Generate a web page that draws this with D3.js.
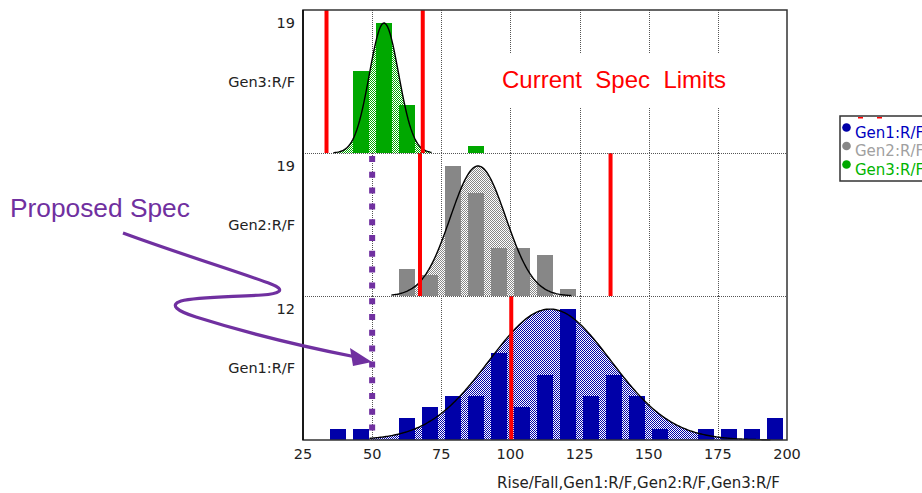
<!DOCTYPE html>
<html>
<head>
<meta charset="utf-8">
<script src="https://cdn.jsdelivr.net/npm/d3@7"></script>
<style>
  body { margin: 0; background: #fff; }
  text { font-family: "DejaVu Sans", sans-serif; }
</style>
</head>
<body>
<div id="chart"></div>
<script>
var svgWidth = 922;
var svgHeight = 493;

// data
var seriesNames = ["Gen1:R/F", "Gen2:R/F", "Gen3:R/F"];
var xTicks = [25, 50, 75, 100, 125, 150, 175, 200];
var binStart = 25;
var binWidth = 175 / 21;
var gen1Counts = [0, 1, 1, 0, 2, 3, 4, 4, 8, 3, 6, 12, 4, 6, 4, 1, 0, 1, 1, 1, 2];
var gen2Counts = [0, 0, 0, 0, 4, 3, 19, 15, 7, 7, 6, 1, 0, 0, 0, 0, 0, 0, 0, 0, 0];
var gen3Counts = [0, 0, 12, 19, 7, 0, 0, 1, 0, 0, 0, 0, 0, 0, 0, 0, 0, 0, 0, 0, 0];
var yMaxLabels = [12, 19, 19];
// fitted normal curves
var fitMean = [114.3, 88.3, 54.3];
var fitSd = [22, 10, 5.3];
var fitPeak = [12, 19, 19];
var fitFrom = [49, 57, 36];
var fitTo = [194, 122, 71.5];
// spec limits
var currentSpec = [[100.3], [67.3, 136.2], [33.5, 68.3]];
var proposedSpec = 50;

var allCounts = [gen1Counts, gen2Counts, gen3Counts];
var barColors = ["#0000a8", "#878787", "#00a800"];
var legendText = ["#0000c0", "#a0a0a0", "#00b400"];
var panelTop = [296, 153, 10];
var panelBottom = [440, 296, 153];

var svg = d3.select("#chart").append("svg")
  .attr("width", svgWidth)
  .attr("height", svgHeight);

var defs = svg.append("defs");
barColors.forEach(function (c, i) {
  var p = defs.append("pattern")
    .attr("id", "chk" + i)
    .attr("width", 2).attr("height", 2)
    .attr("patternUnits", "userSpaceOnUse");
  p.append("rect").attr("width", 2).attr("height", 2).attr("fill", "#fff");
  p.append("rect").attr("width", 1).attr("height", 1).attr("fill", c);
  p.append("rect").attr("x", 1).attr("y", 1).attr("width", 1).attr("height", 1).attr("fill", c);
});

var x = d3.scaleLinear().domain([25, 200]).range([303, 787]);

seriesNames.forEach(function (name, s) {
  var y = d3.scaleLinear()
    .domain([0, yMaxLabels[s] * 1.1])
    .range([panelBottom[s], panelTop[s]]);
  var g = svg.append("g");

  // dotted grid
  g.selectAll(".vgrid")
    .data(xTicks.slice(1, -1))
    .enter().append("line")
    .attr("x1", d => Math.round(x(d)) + 0.5)
    .attr("x2", d => Math.round(x(d)) + 0.5)
    .attr("y1", panelTop[s])
    .attr("y2", panelBottom[s])
    .attr("stroke", "#555")
    .attr("stroke-dasharray", "1,1");
  if (s > 0) {
    g.append("line")
      .attr("x1", 303).attr("x2", 787)
      .attr("y1", panelBottom[s] + 0.5).attr("y2", panelBottom[s] + 0.5)
      .attr("stroke", "#555")
      .attr("stroke-dasharray", "1,1");
  }

  // fitted curve
  var pts = d3.range(fitFrom[s], fitTo[s] + 0.01, 0.5).map(function (v) {
    var z = (v - fitMean[s]) / fitSd[s];
    return [v, fitPeak[s] * Math.exp(-0.5 * z * z)];
  });
  g.append("path")
    .datum(pts)
    .attr("fill", "url(#chk" + s + ")")
    .attr("d", d3.area().x(d => x(d[0])).y0(y(0)).y1(d => y(d[1])));

  // histogram bars
  g.selectAll(".bar")
    .data(allCounts[s].map((c, i) => ({ c: c, i: i })).filter(d => d.c > 0))
    .enter().append("rect")
    .attr("x", d => x(binStart + (d.i + 0.153) * binWidth))
    .attr("width", d => x(binStart + (d.i + 0.847) * binWidth) - x(binStart + (d.i + 0.153) * binWidth))
    .attr("y", d => y(d.c))
    .attr("height", d => y(0) - y(d.c))
    .attr("fill", barColors[s])
    .attr("shape-rendering", "crispEdges");

  g.append("path")
    .datum(pts)
    .attr("fill", "none")
    .attr("stroke", "#000")
    .attr("stroke-width", 1.4)
    .attr("d", d3.line().x(d => x(d[0])).y(d => y(d[1])));

  // current spec limits
  g.selectAll(".spec")
    .data(currentSpec[s])
    .enter().append("line")
    .attr("x1", d => x(d)).attr("x2", d => x(d))
    .attr("y1", panelTop[s]).attr("y2", panelBottom[s])
    .attr("stroke", "#ff0000")
    .attr("stroke-width", 4);

  // y labels
  svg.append("text")
    .attr("x", 295)
    .attr("y", y(yMaxLabels[s]) + 5)
    .attr("text-anchor", "end")
    .attr("font-size", "14.5px")
    .attr("fill", "#222")
    .text(yMaxLabels[s]);
  svg.append("text")
    .attr("x", 295)
    .attr("y", (panelTop[s] + panelBottom[s]) / 2 + 5)
    .attr("text-anchor", "end")
    .attr("font-size", "14.5px")
    .attr("fill", "#222")
    .text(name);
});

// frame
svg.append("rect")
  .attr("x", 303).attr("y", 10)
  .attr("width", 484).attr("height", 430)
  .attr("fill", "none")
  .attr("stroke", "#333")
  .attr("stroke-width", 1.5);
svg.append("line")
  .attr("x1", 303).attr("x2", 303).attr("y1", 10).attr("y2", 440)
  .attr("stroke", "#000").attr("stroke-width", 1.5);

// x axis labels
svg.selectAll(".xtick")
  .data(xTicks)
  .enter().append("text")
  .attr("x", d => x(d))
  .attr("y", 459)
  .attr("text-anchor", "middle")
  .attr("font-size", "14.5px")
  .attr("fill", "#222")
  .text(d => d);
svg.append("text")
  .attr("x", 780).attr("y", 488)
  .attr("text-anchor", "end")
  .attr("font-size", "15px")
  .attr("fill", "#222")
  .text("Rise/Fall,Gen1:R/F,Gen2:R/F,Gen3:R/F");

// proposed spec
svg.append("line")
  .attr("x1", x(proposedSpec)).attr("x2", x(proposedSpec))
  .attr("y1", 156).attr("y2", 440)
  .attr("stroke", "#7030a0")
  .attr("stroke-width", 6)
  .attr("stroke-dasharray", "6,9.8");

// "Current Spec Limits" box
svg.append("rect")
  .attr("x", 495).attr("y", 53).attr("width", 240).attr("height", 54)
  .attr("fill", "#fff");
svg.append("text")
  .attr("x", 502).attr("y", 88)
  .attr("xml:space", "preserve")
  .style("font-family", "'Liberation Sans', Arial, sans-serif")
  .attr("font-size", "24px")
  .attr("fill", "#ff0000")
  .text("Current  Spec  Limits");

// "Proposed Spec" annotation
svg.append("text")
  .attr("x", 10).attr("y", 217)
  .style("font-family", "'Liberation Sans', Arial, sans-serif")
  .attr("font-size", "26.3px")
  .attr("fill", "#7030a0")
  .text("Proposed Spec");
svg.append("path")
  .attr("d", "M123,233 C180,254 245,274 271,284 C287,290 279,294 262,295 C230,297 196,297 181,301 C169,305 177,311 196,317 C250,334 310,348 356,357")
  .attr("fill", "none")
  .attr("stroke", "#7030a0")
  .attr("stroke-width", 3.2);
svg.append("path")
  .attr("d", "M372,362 L350,348 L353,366 Z")
  .attr("fill", "#7030a0");

// legend (clipped at right edge as in the original)
var lg = svg.append("g");
lg.append("rect")
  .attr("x", 840).attr("y", 116).attr("width", 100).attr("height", 65)
  .attr("fill", "#fff").attr("stroke", "#333").attr("stroke-width", 1.5);
[858, 877].forEach(function (px) {
  lg.append("rect").attr("x", px).attr("y", 117).attr("width", 5).attr("height", 1.5).attr("fill", "#ff0000");
});
seriesNames.forEach(function (name, i) {
  var cy = 132 + i * 18.5;
  lg.append("circle")
    .attr("cx", 846.5).attr("cy", cy - 4.5).attr("r", 4.3)
    .attr("fill", barColors[i]);
  lg.append("text")
    .attr("x", 855).attr("y", cy + 5.5)
    .attr("font-size", "15px")
    .attr("fill", legendText[i])
    .text(name);
});
</script>
</body>
</html>
